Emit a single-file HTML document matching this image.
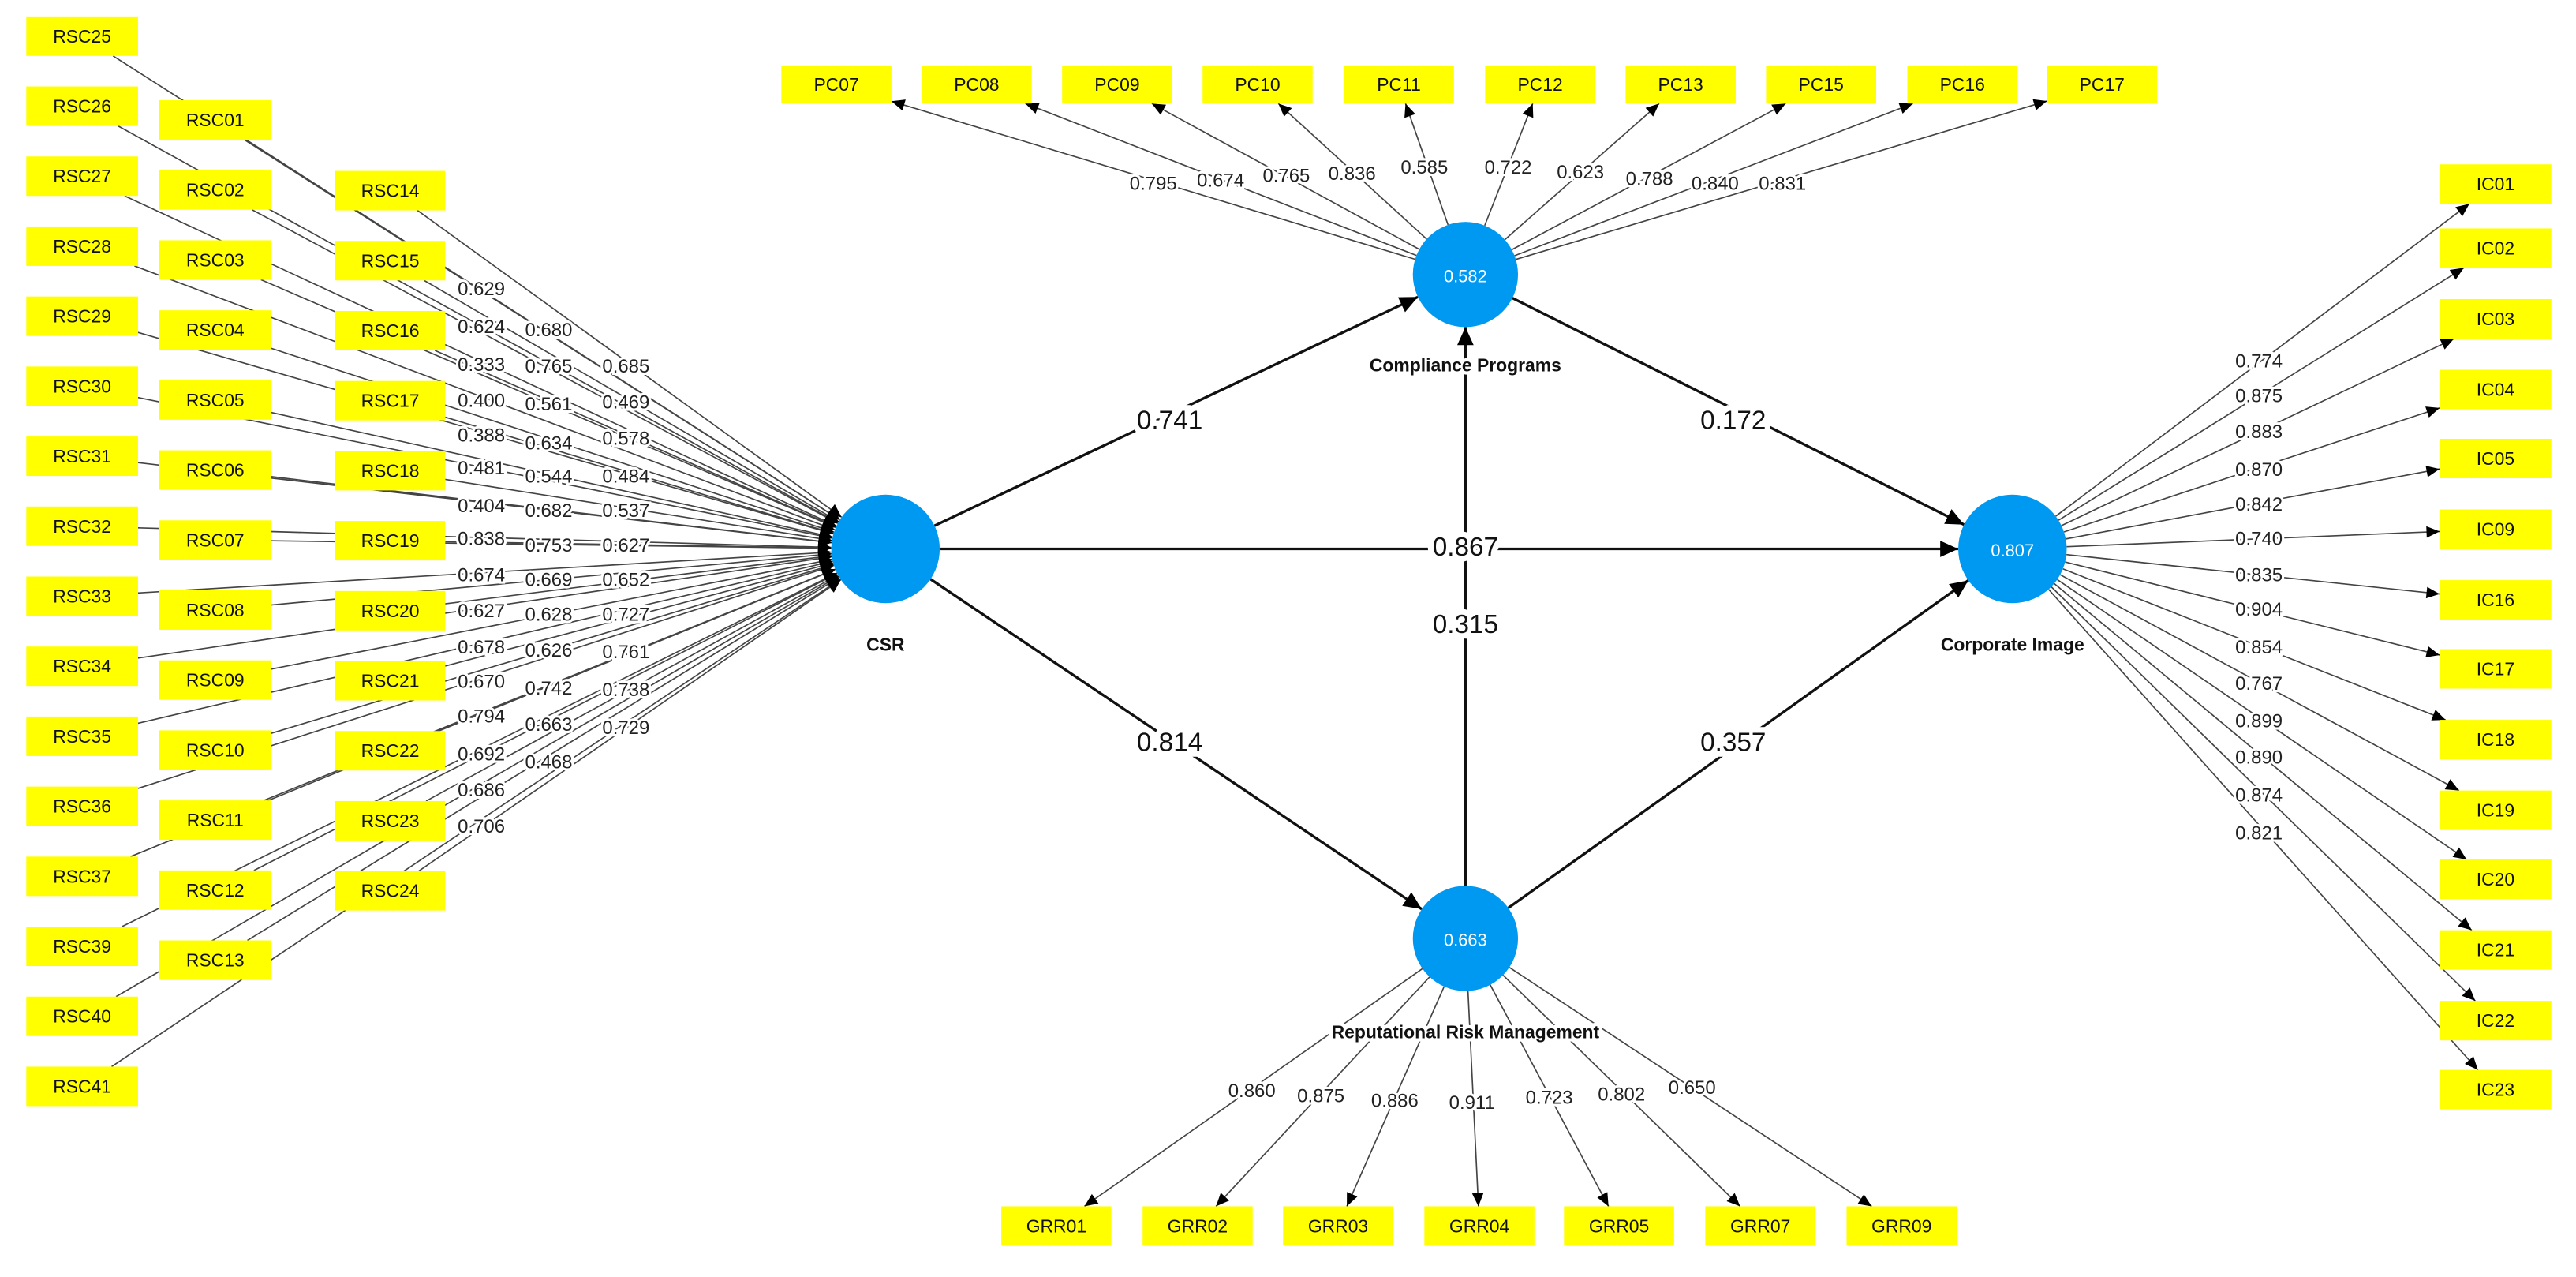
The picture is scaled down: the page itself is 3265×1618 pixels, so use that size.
<!DOCTYPE html>
<html><head><meta charset="utf-8"><style>
html,body{margin:0;padding:0;background:#fff;}
svg{display:block;}
text{font-family:"Liberation Sans",sans-serif;}
.b{font-size:11px;fill:#111;text-anchor:middle;dominant-baseline:central;}
.l{font-size:11.5px;fill:#222;text-anchor:middle;dominant-baseline:central;stroke:#fff;stroke-width:3px;paint-order:stroke;}
.big{font-size:16px;fill:#111;text-anchor:middle;dominant-baseline:central;stroke:#fff;stroke-width:7px;paint-order:stroke;}
.c{font-size:10.5px;fill:#fff;text-anchor:middle;dominant-baseline:central;}
.n{font-size:11px;font-weight:bold;fill:#111;text-anchor:middle;dominant-baseline:central;stroke:#fff;stroke-width:4px;paint-order:stroke;}
</style></head><body>
<svg id="s" xmlns="http://www.w3.org/2000/svg" width="3265" height="1618" viewBox="0 0 1568 777" preserveAspectRatio="none">
<rect width="1568" height="777" fill="#fff"/>
<g id="L"></g>
<g id="B" fill="#ffff00"></g>
<g id="C" fill="#0099f2">
<circle cx="539" cy="334" r="33"/><circle cx="892" cy="167" r="32"/><circle cx="1225" cy="334" r="33"/><circle cx="892" cy="571" r="32"/>
</g>
<g>
<text class="c" x="892" y="168">0.582</text>
<text class="c" x="1225" y="335">0.807</text>
<text class="c" x="892" y="572">0.663</text>
<text class="n" x="892" y="222">Compliance Programs</text>
<text class="n" x="1225" y="392">Corporate Image</text>
<text class="n" x="539" y="392">CSR</text>
<text class="n" x="892" y="628">Reputational Risk Management</text>
<text class="big" x="712" y="256">0.741</text>
<text class="big" x="1055" y="256">0.172</text>
<text class="big" x="892" y="333">0.867</text>
<text class="big" x="892" y="380">0.315</text>
<text class="big" x="712" y="452">0.814</text>
<text class="big" x="1055" y="452">0.357</text>
</g>
<g id="T">
<text class="b" x="50" y="22">RSC25</text><text class="b" x="50" y="64.6">RSC26</text><text class="b" x="50" y="107.2">RSC27</text><text class="b" x="50" y="149.8">RSC28</text><text class="b" x="50" y="192.4">RSC29</text><text class="b" x="50" y="235">RSC30</text><text class="b" x="50" y="277.6">RSC31</text><text class="b" x="50" y="320.2">RSC32</text><text class="b" x="50" y="362.8">RSC33</text><text class="b" x="50" y="405.4">RSC34</text><text class="b" x="50" y="448">RSC35</text><text class="b" x="50" y="490.6">RSC36</text><text class="b" x="50" y="533.2">RSC37</text><text class="b" x="50" y="575.8">RSC39</text><text class="b" x="50" y="618.4">RSC40</text><text class="b" x="50" y="661">RSC41</text>
<text class="b" x="131" y="73">RSC01</text><text class="b" x="131" y="115.6">RSC02</text><text class="b" x="131" y="158.2">RSC03</text><text class="b" x="131" y="200.8">RSC04</text><text class="b" x="131" y="243.4">RSC05</text><text class="b" x="131" y="286">RSC06</text><text class="b" x="131" y="328.6">RSC07</text><text class="b" x="131" y="371.2">RSC08</text><text class="b" x="131" y="413.8">RSC09</text><text class="b" x="131" y="456.4">RSC10</text><text class="b" x="131" y="499">RSC11</text><text class="b" x="131" y="541.6">RSC12</text><text class="b" x="131" y="584.2">RSC13</text>
<text class="b" x="237.5" y="116">RSC14</text><text class="b" x="237.5" y="158.6">RSC15</text><text class="b" x="237.5" y="201.2">RSC16</text><text class="b" x="237.5" y="243.8">RSC17</text><text class="b" x="237.5" y="286.4">RSC18</text><text class="b" x="237.5" y="329">RSC19</text><text class="b" x="237.5" y="371.6">RSC20</text><text class="b" x="237.5" y="414.2">RSC21</text><text class="b" x="237.5" y="456.8">RSC22</text><text class="b" x="237.5" y="499.4">RSC23</text><text class="b" x="237.5" y="542">RSC24</text>
<text class="b" x="509.1" y="51.5">PC07</text><text class="b" x="594.5" y="51.5">PC08</text><text class="b" x="680" y="51.5">PC09</text><text class="b" x="765.5" y="51.5">PC10</text><text class="b" x="851.5" y="51.5">PC11</text><text class="b" x="937.5" y="51.5">PC12</text><text class="b" x="1023" y="51.5">PC13</text><text class="b" x="1108.5" y="51.5">PC15</text><text class="b" x="1194.5" y="51.5">PC16</text><text class="b" x="1279.5" y="51.5">PC17</text>
<text class="b" x="1519" y="112">IC01</text><text class="b" x="1519" y="151">IC02</text><text class="b" x="1519" y="194">IC03</text><text class="b" x="1519" y="237">IC04</text><text class="b" x="1519" y="279">IC05</text><text class="b" x="1519" y="322">IC09</text><text class="b" x="1519" y="365">IC16</text><text class="b" x="1519" y="407">IC17</text><text class="b" x="1519" y="450">IC18</text><text class="b" x="1519" y="493">IC19</text><text class="b" x="1519" y="535">IC20</text><text class="b" x="1519" y="578">IC21</text><text class="b" x="1519" y="621">IC22</text><text class="b" x="1519" y="663">IC23</text>
<text class="b" x="643" y="746">GRR01</text><text class="b" x="729" y="746">GRR02</text><text class="b" x="814.5" y="746">GRR03</text><text class="b" x="900.5" y="746">GRR04</text><text class="b" x="985.5" y="746">GRR05</text><text class="b" x="1071.5" y="746">GRR07</text><text class="b" x="1157.5" y="746">GRR09</text>
</g>
<g id="LB">
<text class="l" x="293" y="176">0.629</text><text class="l" x="293" y="199">0.624</text><text class="l" x="293" y="222">0.333</text><text class="l" x="293" y="244">0.400</text><text class="l" x="293" y="265">0.388</text><text class="l" x="293" y="285">0.481</text><text class="l" x="293" y="308">0.404</text><text class="l" x="293" y="328">0.838</text><text class="l" x="293" y="350">0.674</text><text class="l" x="293" y="372">0.627</text><text class="l" x="293" y="394">0.678</text><text class="l" x="293" y="415">0.670</text><text class="l" x="293" y="436">0.794</text><text class="l" x="293" y="459">0.692</text><text class="l" x="293" y="481">0.686</text><text class="l" x="293" y="503">0.706</text>
<text class="l" x="334" y="201">0.680</text><text class="l" x="334" y="223">0.765</text><text class="l" x="334" y="246">0.561</text><text class="l" x="334" y="270">0.634</text><text class="l" x="334" y="290">0.544</text><text class="l" x="334" y="311">0.682</text><text class="l" x="334" y="332">0.753</text><text class="l" x="334" y="353">0.669</text><text class="l" x="334" y="374">0.628</text><text class="l" x="334" y="396">0.626</text><text class="l" x="334" y="419">0.742</text><text class="l" x="334" y="441">0.663</text><text class="l" x="334" y="464">0.468</text>
<text class="l" x="381" y="223">0.685</text><text class="l" x="381" y="245">0.469</text><text class="l" x="381" y="267">0.578</text><text class="l" x="381" y="290">0.484</text><text class="l" x="381" y="311">0.537</text><text class="l" x="381" y="332">0.627</text><text class="l" x="381" y="353">0.652</text><text class="l" x="381" y="374">0.727</text><text class="l" x="381" y="397">0.761</text><text class="l" x="381" y="420">0.738</text><text class="l" x="381" y="443">0.729</text>
<text class="l" x="702" y="112">0.795</text><text class="l" x="743" y="110">0.674</text><text class="l" x="783" y="107">0.765</text><text class="l" x="823" y="106">0.836</text><text class="l" x="867" y="102">0.585</text><text class="l" x="918" y="102">0.722</text><text class="l" x="962" y="105">0.623</text><text class="l" x="1004" y="109">0.788</text><text class="l" x="1044" y="112">0.840</text><text class="l" x="1085" y="112">0.831</text>
<text class="l" x="1375" y="220">0.774</text><text class="l" x="1375" y="241">0.875</text><text class="l" x="1375" y="263">0.883</text><text class="l" x="1375" y="286">0.870</text><text class="l" x="1375" y="307">0.842</text><text class="l" x="1375" y="328">0.740</text><text class="l" x="1375" y="350">0.835</text><text class="l" x="1375" y="371">0.904</text><text class="l" x="1375" y="394">0.854</text><text class="l" x="1375" y="416">0.767</text><text class="l" x="1375" y="439">0.899</text><text class="l" x="1375" y="461">0.890</text><text class="l" x="1375" y="484">0.874</text><text class="l" x="1375" y="507">0.821</text>
<text class="l" x="762" y="664">0.860</text><text class="l" x="804" y="667">0.875</text><text class="l" x="849" y="670">0.886</text><text class="l" x="896" y="671">0.911</text><text class="l" x="943" y="668">0.723</text><text class="l" x="987" y="666">0.802</text><text class="l" x="1030" y="662">0.650</text>
</g>
</svg>
<script>
(function(){
var NS='http://www.w3.org/2000/svg';
var L=document.getElementById('L'),B=document.getElementById('B');
function el(p,t,a){var e=document.createElementNS(NS,t);for(var k in a)e.setAttribute(k,a[k]);p.appendChild(e);return e;}
function rect(x,y,w,h){el(B,'rect',{x:x,y:y,width:w,height:h});}
function clip(b,tx,ty){var cx=b[0]+b[2]/2,cy=b[1]+b[3]/2,dx=tx-cx,dy=ty-cy,t=1e9;
 if(dx)t=Math.min(t,(b[2]/2)/Math.abs(dx));if(dy)t=Math.min(t,(b[3]/2)/Math.abs(dy));return [cx+dx*t,cy+dy*t];}
function arrow(x1,y1,x2,y2,len,wid,col){var dx=x2-x1,dy=y2-y1,d=Math.sqrt(dx*dx+dy*dy),ux=dx/d,uy=dy/d;
 var bx=x2-ux*len,by=y2-uy*len;
 el(L,'polygon',{points:x2+','+y2+' '+(bx-uy*wid)+','+(by+ux*wid)+' '+(bx+uy*wid)+','+(by-ux*wid),fill:col});}
function ln(x1,y1,x2,y2,sw,col){el(L,'line',{x1:x1,y1:y1,x2:x2,y2:y2,stroke:col,'stroke-width':sw});}
var boxes=[];
var i;
for(i=0;i<16;i++)boxes.push([16,10+i*42.6,68,24]);
for(i=0;i<13;i++)boxes.push([97,61+i*42.6,68,24]);
for(i=0;i<11;i++)boxes.push([204,104+i*42.6,67,24]);
// left: arrows into CSR
var cx=539,cy=334,r=33;
boxes.forEach(function(b){rect(b[0],b[1],b[2],b[3]);
 var bc=[b[0]+b[2]/2,b[1]+b[3]/2];var p=clip(b,cx,cy);
 var dx=cx-bc[0],dy=cy-bc[1],d=Math.sqrt(dx*dx+dy*dy);
 var ex=cx-dx/d*r,ey=cy-dy/d*r;
 ln(p[0],p[1],ex,ey,0.8,'#444');arrow(p[0],p[1],ex,ey,8,4,'#000');});
function outward(list,ox,oy,orr){list.forEach(function(b){rect(b[0],b[1],b[2],b[3]);
 var bc=[b[0]+b[2]/2,b[1]+b[3]/2];var dx=bc[0]-ox,dy=bc[1]-oy,d=Math.sqrt(dx*dx+dy*dy);
 var sx=ox+dx/d*orr,sy=oy+dy/d*orr;var p=clip(b,ox,oy);
 ln(sx,sy,p[0],p[1],0.8,'#444');arrow(sx,sy,p[0],p[1],8,3.5,'#000');});}
var pcx=[475.6,561,646.5,732,818,904,989.5,1075,1161,1246],pc=[];
pcx.forEach(function(x){pc.push([x,40,67,23]);});
outward(pc,892,167,32);
var ict=[100,139,182,225,267,310,353,395,438,481,523,566,609,651],ic=[];
ict.forEach(function(y){ic.push([1485,y,68,24]);});
outward(ic,1225,334,33);
var gx=[609.5,695.5,781,867,952,1038,1124],gr=[];
gx.forEach(function(x){gr.push([x,734,67,24]);});
outward(gr,892,571,32);
// structural
function sp(a,b,ra,rb){var dx=b[0]-a[0],dy=b[1]-a[1],d=Math.sqrt(dx*dx+dy*dy),ux=dx/d,uy=dy/d;
 var sx=a[0]+ux*ra,sy=a[1]+uy*ra,ex=b[0]-ux*rb,ey=b[1]-uy*rb;ln(sx,sy,ex,ey,1.6,'#111');arrow(sx,sy,ex,ey,11,5,'#000');}
var CSR=[539,334],CP=[892,167],CI=[1225,334],RR=[892,571];
sp(CSR,CP,33,32);sp(CP,CI,32,33);sp(CSR,CI,33,33);sp(CSR,RR,33,32);sp(RR,CI,32,33);sp(RR,CP,32,32);
})();
</script>
</body></html>
